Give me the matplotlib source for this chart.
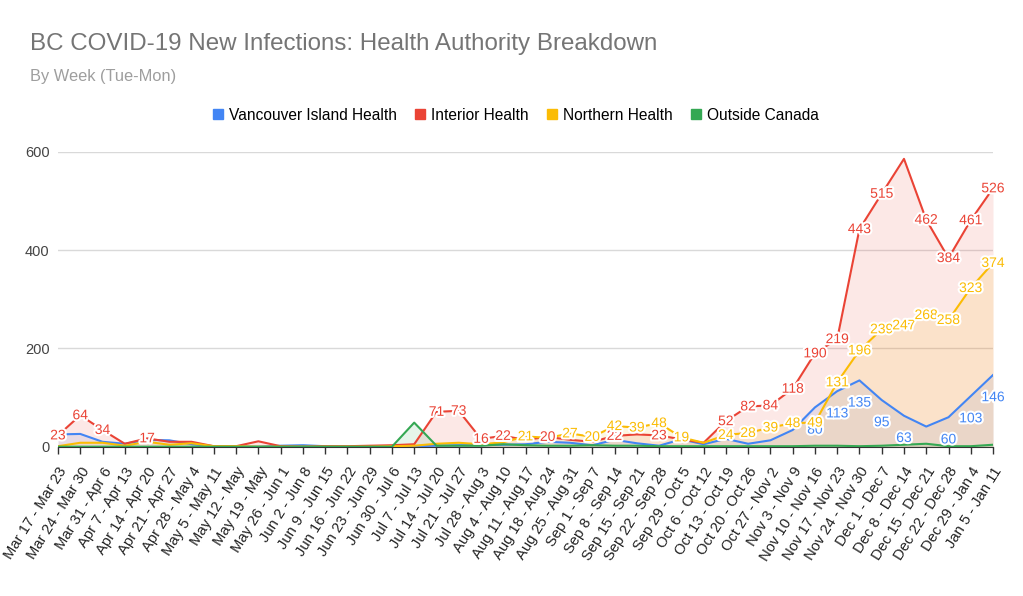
import matplotlib
matplotlib.use("Agg")
import matplotlib.pyplot as plt
import matplotlib.patheffects as pe
from matplotlib.lines import Line2D

plt.rcParams["font.family"] = ["Liberation Sans", "DejaVu Sans"]

weeks = [
    "Mar 17 - Mar 23", "Mar 24 - Mar 30", "Mar 31 - Apr 6", "Apr 7 - Apr 13",
    "Apr 14 - Apr 20", "Apr 21 - Apr 27", "Apr 28 - May 4", "May 5 - May 11",
    "May 12 - May", "May 19 - May", "May 26 - Jun 1", "Jun 2 - Jun 8",
    "Jun 9 - Jun 15", "Jun 16 - Jun 22", "Jun 23 - Jun 29", "Jun 30 - Jul 6",
    "Jul 7 - Jul 13", "Jul 14 - Jul 20", "Jul 21 - Jul 27", "Jul 28 - Aug 3",
    "Aug 4 - Aug 10", "Aug 11 - Aug 17", "Aug 18 - Aug 24", "Aug 25 - Aug 31",
    "Sep 1 - Sep 7", "Sep 8 - Sep 14", "Sep 15 - Sep 21", "Sep 22 - Sep 28",
    "Sep 29 - Oct 5", "Oct 6 - Oct 12", "Oct 13 - Oct 19", "Oct 20 - Oct 26",
    "Oct 27 - Nov 2", "Nov 3 - Nov 9", "Nov 10 - Nov 16", "Nov 17 - Nov 23",
    "Nov 24 - Nov 30", "Dec 1 - Dec 7", "Dec 8 - Dec 14", "Dec 15 - Dec 21",
    "Dec 22 - Dec 28", "Dec 29 - Jan 4", "Jan 5 - Jan 11",
]

vancouver_island = [25, 26, 10, 6, 14, 13, 5, 1, 0, 0, 2, 3, 1, 0, 0, 1, 1, 2, 3, 3, 4, 5,
                    10, 8, 3, 14, 7, 2, 15, 5, 16, 6, 13, 34, 80, 113, 135, 95, 63, 41, 60, 103, 146]
interior = [23, 64, 34, 6, 17, 10, 10, 1, 1, 11, 1, 0, 1, 1, 2, 3, 5, 71, 73, 16, 22, 14,
            20, 14, 10, 22, 25, 23, 15, 8, 52, 82, 84, 118, 190, 219, 443, 515, 586, 462, 384, 461, 526]
northern = [1, 8, 8, 2, 10, 4, 7, 1, 1, 0, 0, 0, 0, 0, 0, 1, 2, 6, 8, 5, 9, 21,
            18, 27, 20, 42, 39, 48, 19, 8, 24, 28, 39, 48, 49, 131, 196, 239, 247, 268, 258, 323, 374]
outside_canada = [0, 0, 0, 0, 0, 0, 0, 0, 0, 0, 0, 0, 0, 0, 0, 0, 49, 2, 2, 2, 5, 3,
                  2, 2, 3, 2, 2, 1, 1, 1, 1, 1, 1, 1, 2, 2, 1, 2, 4, 6, 1, 1, 4]

# points that carry a data label in the original
vih_labelled = [34, 35, 36, 37, 38, 40, 41, 42]
interior_labelled = [0, 1, 2, 4, 17, 18, 19, 20, 22, 25, 27, 30, 31, 32, 33, 34, 35, 36, 37,
                     39, 40, 41, 42]
northern_labelled = [21, 23, 24, 25, 26, 27, 28, 30, 31, 32, 33, 34, 35, 36, 37, 38, 39, 40,
                     41, 42]

series = [
    ("Vancouver Island Health", vancouver_island, "#4285F4", vih_labelled, -16),
    ("Interior Health", interior, "#EA4335", interior_labelled, 0),
    ("Northern Health", northern, "#FBBC04", northern_labelled, 0),
    ("Outside Canada", outside_canada, "#34A853", [], 0),
]

fig = plt.figure(figsize=(10.23, 5.96), dpi=100)
ax = fig.add_axes([0.0567, 0.2505, 0.914, 0.4945])
x = list(range(len(weeks)))

for name, vals, col, _, _ in series:
    ax.fill_between(x, vals, 0, color=col, alpha=0.12, linewidth=0, zorder=1)
for name, vals, col, _, _ in series:
    ax.plot(x, vals, color=col, lw=1.5, zorder=3)

halo = [pe.withStroke(linewidth=3, foreground="white")]
for name, vals, col, lab_idx, dy in series:
    for i in lab_idx:
        ax.annotate(str(vals[i]), (i, vals[i]), xytext=(0, dy), textcoords="offset points",
                    ha="center", va="center", fontsize=10, color=col, zorder=5,
                    path_effects=halo, annotation_clip=False)

ax.set_xlim(0, len(weeks) - 1)
ax.set_ylim(0, 600)
ax.set_yticks([0, 200, 400, 600])
ax.grid(axis="y", color="#d9d9d9", lw=1, zorder=0)
ax.set_axisbelow(True)
for s in ["top", "right", "left"]:
    ax.spines[s].set_visible(False)
ax.spines["bottom"].set_color("#333333")
ax.spines["bottom"].set_zorder(2)
ax.tick_params(axis="y", length=0, pad=6, labelsize=10.5, labelcolor="#444444")
ax.tick_params(axis="x", length=5, width=1, color="#333333", pad=8, labelsize=10.6, labelcolor="#222222")
ax.set_xticks(x)
ax.set_xticklabels(weeks, rotation=58, ha="right", rotation_mode="anchor")

fig.text(0.029, 0.927, "BC COVID-19 New Infections: Health Authority Breakdown",
         fontsize=17.4, color="#757575", va="center")
fig.text(0.029, 0.872, "By Week (Tue-Mon)", fontsize=11.8, color="#9e9e9e", va="center")

handles = [Line2D([], [], marker="s", ls="none", markersize=7, color=c) for _, _, c, _, _ in series]
fig.legend(handles, [s[0] for s in series], loc="center", bbox_to_anchor=(0.503, 0.807),
           ncol=4, frameon=False, fontsize=11.2, handletextpad=0.2, columnspacing=1.0,
           handlelength=1.0)

fig.savefig("out.png", dpi=100)
